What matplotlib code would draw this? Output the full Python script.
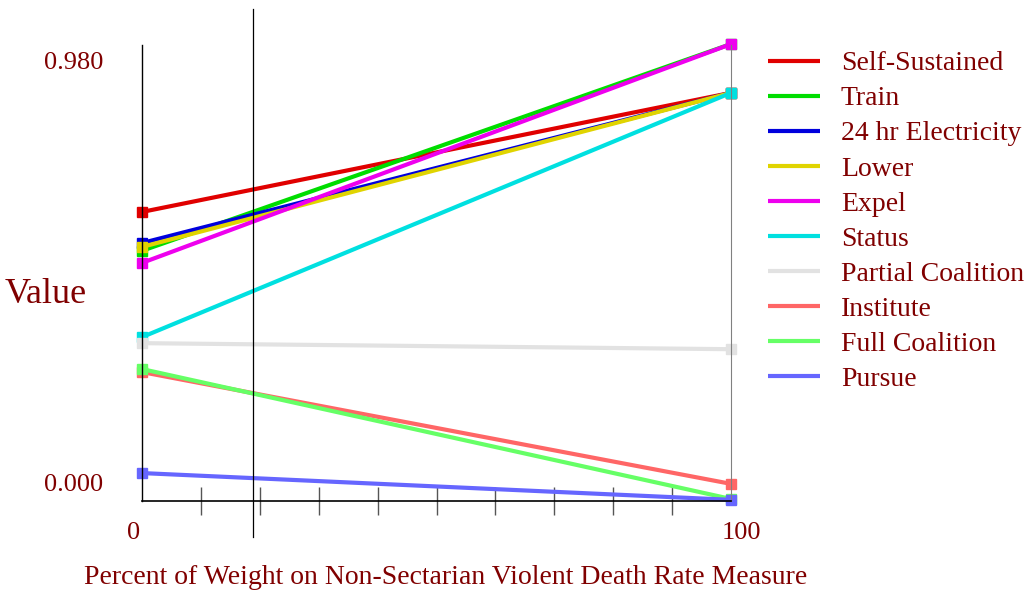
import numpy as np
import matplotlib
matplotlib.use("Agg")
import matplotlib.pyplot as plt
import matplotlib.transforms as mtransforms

# ── Data ───────────────────────────────────────────────────────────────────
weights = [0, 100]
series_names = [
    "Self-Sustained", "Train", "24 hr Electricity", "Lower", "Expel",
    "Status", "Partial Coalition", "Institute", "Full Coalition", "Pursue",
]
value_at_0 = [0.628, 0.538, 0.556, 0.547, 0.510, 0.338, 0.324, 0.257, 0.264, 0.023]
value_at_100 = [0.904, 1.017, 0.904, 0.904, 1.017, 0.904, 0.310, -0.002, -0.037, -0.039]
series_colors = [
    "#E00000", "#00DD00", "#0000DD", "#E0D400", "#EE00EE",
    "#00E0E0", "#E2E2E2", "#FF6666", "#66FF66", "#6666FF",
]
cursor_weight = 18.9

TEXT = "#800000"
SERIF = ["Liberation Serif", "DejaVu Serif"]

plt.rcParams.update({
    "font.family": SERIF,
    "text.color": TEXT,
})

fig = plt.figure(figsize=(10.30, 5.97), dpi=100)
ax = fig.add_axes([142 / 1030, 1 - 501 / 597, 589 / 1030, 456 / 597])

for name, v0, v1, c in zip(series_names, value_at_0, value_at_100, series_colors):
    ax.plot(weights, [v0, v1], color=c, lw=3, marker="s", ms=7,
            clip_on=False, label=name, solid_capstyle="butt")

ax.set_xlim(0, 100)
ax.set_ylim(-0.0417, 1.0148)

# spines
ax.spines["top"].set_visible(False)
ax.spines["right"].set_color("#808080")
ax.spines["left"].set_linewidth(1)
ax.spines["bottom"].set_linewidth(1.2)

# cursor line, runs past the plot area
ax.axvline(cursor_weight, ymin=-0.08, ymax=1.08, color="black", lw=0.9,
           clip_on=False)

# ticks
ax.set_xticks([0, 100], ["0", "100"])
ax.set_xticks(np.arange(10, 100, 10), minor=True)
ax.tick_params(axis="x", which="major", length=0, pad=15, labelsize=19,
               labelcolor=TEXT)
ax.tick_params(axis="x", which="minor", direction="inout", length=20,
               width=1, color="#555555")
offs = [-8, 10]
for lab, dx in zip(ax.get_xticklabels(), offs):
    lab.set_transform(lab.get_transform() +
                      mtransforms.ScaledTranslation(dx / 100, 0, fig.dpi_scale_trans))

ax.set_yticks([0.0, 0.98], ["0.000", "0.980"])
ax.tick_params(axis="y", length=0, pad=28, labelsize=19, labelcolor=TEXT)
ylabs = ax.get_yticklabels()
ylabs[0].set_transform(ylabs[0].get_transform() +
                       mtransforms.ScaledTranslation(0, 0.01, fig.dpi_scale_trans))

ax.text(-0.163, 0.452, "Value", transform=ax.transAxes, fontsize=26,
        ha="center", va="center", color=TEXT)
fig.text(446 / 1030, 1 - 578 / 597,
         "Percent of Weight on Non-Sectarian Violent Death Rate Measure",
         fontsize=20, ha="center", va="center", color=TEXT)

leg = ax.legend(loc="upper left", bbox_to_anchor=(768 / 1030, 1 - 51 / 597),
                bbox_transform=fig.transFigure, frameon=False, fontsize=20,
                handlelength=1.87, handletextpad=0.75, labelspacing=0.345,
                borderaxespad=0, borderpad=0, labelcolor=TEXT)
for h in leg.legend_handles:
    h.set_marker("")

fig.savefig("out.png", dpi=100)
